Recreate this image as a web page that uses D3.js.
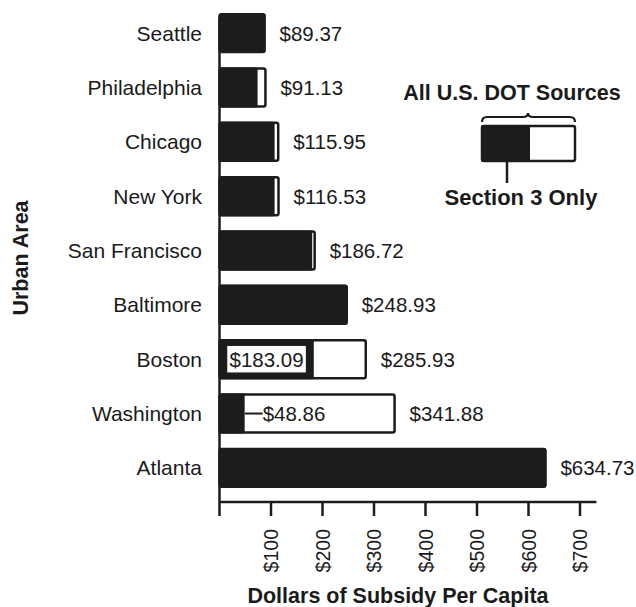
<!DOCTYPE html>
<html>
<head>
<meta charset="utf-8">
<script src="https://cdnjs.cloudflare.com/ajax/libs/d3/7.8.5/d3.min.js"></script>
<style>
    body { margin: 0; background: #fff; }
    text { font-family: "Liberation Sans", Arial, Helvetica, sans-serif; fill: #1a1a1a; }
</style>
</head>
<body>
<svg id="chart" width="636" height="607"></svg>
<script>
// data
var cities = ["Seattle", "Philadelphia", "Chicago", "New York", "San Francisco",
    "Baltimore", "Boston", "Washington", "Atlanta"];
var allSources = [89.37, 91.13, 115.95, 116.53, 186.72, 248.93, 285.93, 341.88, 634.73];
var section3 = [89.37, 74, 107, 107, 180, 248.93, 183.09, 48.86, 634.73];
var section3Labelled = ["Boston", "Washington"];
var xTicks = [100, 200, 300, 400, 500, 600, 700];

var ink = "#1c1c1c";
var rows = cities.map(function (c, i) {
    return { city: c, total: allSources[i], sec3: section3[i] };
});

var svg = d3.select("#chart");

var x = d3.scaleLinear().domain([0, 700]).range([219.5, 580]);
var y = d3.scaleBand().domain(cities)
    .range([5, 496])
    .paddingInner(0.265)
    .paddingOuter(0.15);

var axisY = 502;

// bars: outline (all sources) then solid section 3 part
var bar = svg.append("g").selectAll(".bar")
    .data(rows).enter().append("g")
    .attr("class", "bar");

bar.append("rect")
    .attr("x", x(0))
    .attr("y", function (d) { return y(d.city) + 1; })
    .attr("width", function (d) { return x(d.total) - x(0) - 1; })
    .attr("height", y.bandwidth() - 2)
    .attr("rx", 2)
    .style("fill", "#fff")
    .style("stroke", ink)
    .style("stroke-width", 2.5);

bar.append("rect")
    .attr("x", x(0))
    .attr("y", function (d) { return y(d.city); })
    .attr("width", function (d) { return x(d.sec3) - x(0); })
    .attr("height", y.bandwidth())
    .attr("rx", 2)
    .style("fill", ink);

bar.append("text")
    .attr("x", function (d) { return x(d.total) + 14; })
    .attr("y", function (d) { return y(d.city) + y.bandwidth() / 2; })
    .attr("dy", "0.36em")
    .style("font-size", "20.5px")
    .text(function (d) { return "$" + d.total.toFixed(2); });

// section 3 values called out inside the bars
var inner = svg.append("g").selectAll(".inner")
    .data(rows.filter(function (d) { return section3Labelled.indexOf(d.city) != -1; }))
    .enter().append("g")
    .attr("class", "inner");

inner.each(function (d) {
    var g = d3.select(this);
    var cy = y(d.city) + y.bandwidth() / 2;
    var wide = x(d.sec3) - x(0) > 60;
    var tx = wide ? x(0) + 10 : x(d.sec3) + 18;
    if (!wide) {
        g.append("line")
            .attr("x1", x(d.sec3)).attr("x2", tx)
            .attr("y1", cy).attr("y2", cy)
            .style("stroke", ink).style("stroke-width", 2);
    }
    var t = g.append("text")
        .attr("x", tx).attr("y", cy)
        .attr("dy", "0.36em")
        .style("font-size", "20.5px")
        .text("$" + d.sec3.toFixed(2));
    if (wide) {
        var bb = t.node().getBBox();
        g.insert("rect", "text")
            .attr("x", bb.x - 3).attr("y", cy - 14)
            .attr("width", bb.width + 6).attr("height", 28)
            .style("fill", "#fff")
            .style("stroke", ink).style("stroke-width", 1.5);
    }
});

// category labels
svg.append("g").selectAll(".cat")
    .data(cities).enter().append("text")
    .attr("class", "cat")
    .attr("x", 202)
    .attr("y", function (d) { return y(d) + y.bandwidth() / 2; })
    .attr("dy", "0.36em")
    .attr("text-anchor", "end")
    .style("font-size", "21px")
    .text(function (d) { return d; });

// axes
svg.append("line")
    .attr("x1", x(0)).attr("x2", x(0))
    .attr("y1", y(cities[0]) + 4).attr("y2", axisY + 14)
    .style("stroke", ink).style("stroke-width", 2.5);

svg.append("line")
    .attr("x1", x(0)).attr("x2", x(732))
    .attr("y1", axisY).attr("y2", axisY)
    .style("stroke", ink).style("stroke-width", 2.5);

svg.append("g").selectAll(".tick")
    .data(xTicks).enter().append("line")
    .attr("x1", function (d) { return x(d); })
    .attr("x2", function (d) { return x(d); })
    .attr("y1", axisY).attr("y2", axisY + 14)
    .style("stroke", ink).style("stroke-width", 2.5);

svg.append("g").selectAll(".tickLabel")
    .data(xTicks).enter().append("text")
    .attr("transform", function (d) { return "translate(" + x(d) + "," + (axisY + 27) + ") rotate(-90)"; })
    .attr("dy", "0.36em")
    .attr("text-anchor", "end")
    .style("font-size", "19.5px")
    .text(function (d) { return "$" + d; });

svg.append("text")
    .attr("x", 398).attr("y", 603)
    .attr("text-anchor", "middle")
    .style("font-size", "21.5px").style("font-weight", "bold")
    .text("Dollars of Subsidy Per Capita");

svg.append("text")
    .attr("transform", "translate(28,258) rotate(-90)")
    .attr("text-anchor", "middle")
    .style("font-size", "21.5px").style("font-weight", "bold")
    .text("Urban Area");

// legend
var lg = svg.append("g");
lg.append("text")
    .attr("x", 512).attr("y", 100)
    .attr("text-anchor", "middle")
    .style("font-size", "21.5px").style("font-weight", "bold")
    .text("All U.S. DOT Sources");

lg.append("path")
    .attr("d", "M482,122 Q482,117 487,117 L523,117 Q528,117 528,113 Q528,117 533,117 L570,117 Q575,117 575,122")
    .style("fill", "none").style("stroke", ink).style("stroke-width", 2.2);

lg.append("rect")
    .attr("x", 482).attr("y", 126).attr("width", 93).attr("height", 35).attr("rx", 2)
    .style("fill", "#fff").style("stroke", ink).style("stroke-width", 2.5);
lg.append("rect")
    .attr("x", 481).attr("y", 125).attr("width", 49).attr("height", 37).attr("rx", 2)
    .style("fill", ink);

lg.append("line")
    .attr("x1", 507).attr("x2", 507).attr("y1", 162).attr("y2", 183)
    .style("stroke", ink).style("stroke-width", 2.5);

lg.append("text")
    .attr("x", 521).attr("y", 205)
    .attr("text-anchor", "middle")
    .style("font-size", "22px").style("font-weight", "bold")
    .text("Section 3 Only");
</script>
</body>
</html>
